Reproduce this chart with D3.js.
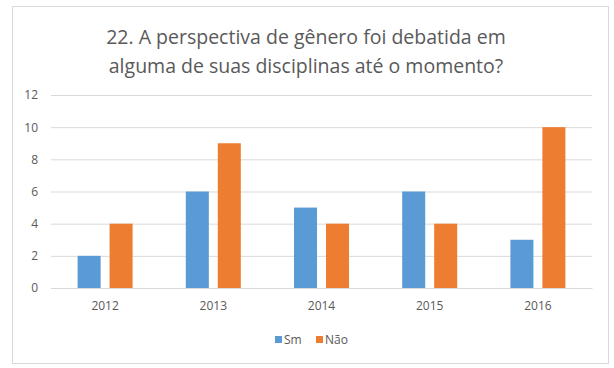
<!DOCTYPE html>
<html>
<head>
<meta charset="utf-8">
<script src="https://cdn.jsdelivr.net/npm/d3@7"></script>
<style>
  body { margin: 0; background: #fff; }
  text { font-family: "Open Sans", sans-serif; }
</style>
</head>
<body>
<div id="graf"></div>
<script>
const anos = ["2012", "2013", "2014", "2015", "2016"]
const sim = [2, 6, 5, 6, 3]
const nao = [4, 9, 4, 4, 10]
const series = ["Sm", "Não"]
const yTicks = [0, 2, 4, 6, 8, 10, 12]
const titulo = ["22. A perspectiva de gênero foi debatida em", "alguma de suas disciplinas até o momento?"]

const cores = ["#5B9BD5", "#ED7D31"]
const anchoTotal = 614
const altoTotal = 368
const margins = { top: 95, right: 22, bottom: 80, left: 51 }
const ancho = 592 - margins.left
const alto = 288 - margins.top

const svg = d3.select("#graf")
  .append("svg")
  .attr("width", anchoTotal)
  .attr("height", altoTotal)

// marco
svg.append("rect")
  .attr("x", 12.5).attr("y", 6.5)
  .attr("width", 596).attr("height", 357)
  .attr("fill", "#fff")
  .attr("stroke", "#D9D9D9")

svg.selectAll(".titulo")
  .data(titulo)
  .enter()
  .append("text")
  .attr("x", 306)
  .attr("y", (d, i) => 44 + i * 29)
  .attr("text-anchor", "middle")
  .attr("font-size", 19.5)
  .attr("fill", "#595959")
  .text((d) => d)

const g = svg.append("g")
  .attr("transform", `translate(${margins.left}, ${margins.top})`)

const x = d3.scaleBand().domain(anos).range([0, ancho])
const y = d3.scaleLinear().domain([0, 12]).range([alto, 0])

const yAxis = g.append("g")
  .call(d3.axisLeft(y).tickValues(yTicks).tickSize(-ancho).tickPadding(13))
yAxis.select(".domain").remove()
yAxis.selectAll("line").attr("stroke", "#D9D9D9")
yAxis.selectAll("text").attr("fill", "#595959").attr("font-size", 12)

const xAxis = g.append("g")
  .attr("transform", `translate(0, ${alto})`)
  .call(d3.axisBottom(x).tickSize(0).tickPadding(13))
xAxis.select(".domain").attr("stroke", "#D9D9D9")
xAxis.selectAll("text").attr("fill", "#595959").attr("font-size", 12)

const datos = anos.map((a, i) => ({ ano: a, valores: [sim[i], nao[i]] }))
const xs = d3.scaleBand().domain([0, 1]).range([x.bandwidth() / 2 - 27.5, x.bandwidth() / 2 + 27.5]).paddingInner(0.28)

g.selectAll(".grupo")
  .data(datos)
  .enter()
  .append("g")
  .attr("transform", (d) => `translate(${x(d.ano)}, 0)`)
  .selectAll("rect")
  .data((d) => d.valores)
  .enter()
  .append("rect")
  .attr("x", (d, i) => xs(i))
  .attr("y", (d) => y(d))
  .attr("width", xs.bandwidth())
  .attr("height", (d) => alto - y(d))
  .attr("fill", (d, i) => cores[i])

const leyenda = svg.append("g")
const posLey = [275, 316]
series.forEach((s, i) => {
  leyenda.append("rect")
    .attr("x", posLey[i]).attr("y", 336)
    .attr("width", 7).attr("height", 7)
    .attr("fill", cores[i])
  leyenda.append("text")
    .attr("x", posLey[i] + 9).attr("y", 344)
    .attr("font-size", 12)
    .attr("fill", "#595959")
    .text(s)
})
</script>
</body>
</html>
